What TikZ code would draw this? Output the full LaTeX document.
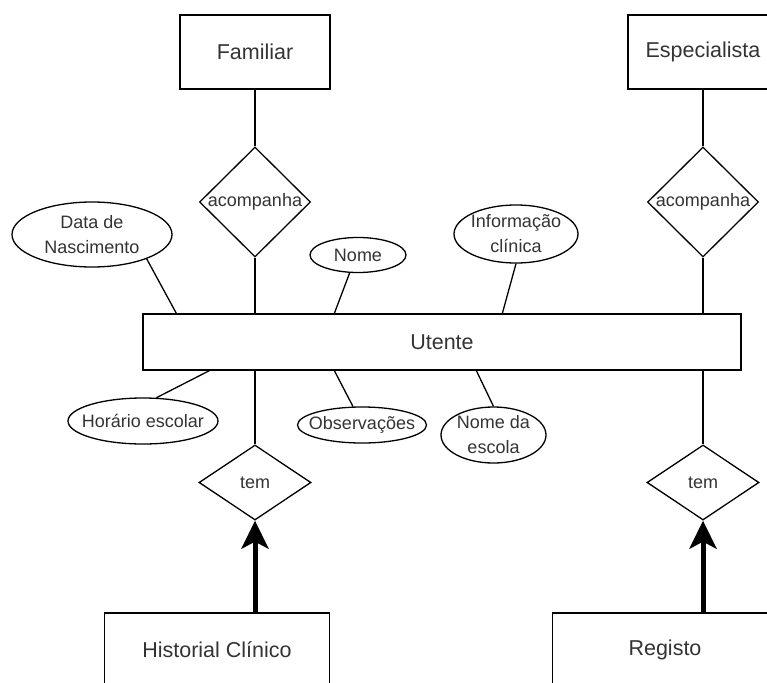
\documentclass[tikz,border=0pt]{standalone}
\usepackage{fontspec}
\setmainfont{Liberation Sans}
\usetikzlibrary{shapes.geometric,arrows.meta,calc}
\begin{document}
\begin{tikzpicture}[x=1pt,y=-1pt,
  line width=1.3pt,
  bigtext/.style={text=black!80, font=\fontsize{21.5}{26}\selectfont},
  smalltext/.style={text=black!80, font=\fontsize{18}{25}\selectfont, align=center},
  entity/.style={draw, rectangle, minimum width=150pt, minimum height=74pt, inner sep=0pt, bigtext},
  relation/.style={draw, diamond, minimum width=111pt, minimum height=110pt, inner sep=0pt},
  attribute/.style={draw, ellipse, inner sep=0pt},
  strongarrow/.style={line width=5pt, -{Stealth[length=28pt, width=27pt, inset=7pt]}}
]
\useasboundingbox (0,0) rectangle (767,682);
\clip (0,0) rectangle (767,682);

% entities
\node[entity] (fam) at (255,52) {Familiar};
\node[entity] (esp) at (703,52) {Especialista};
\node[entity, minimum width=598pt, minimum height=56pt] (ut) at (442,342) {Utente};
\node[entity, minimum width=225pt] (hist) at (217,650) {Historial Clínico};
\node[entity, minimum width=225pt] (reg) at (665,650) {Registo};

% relationships
\node[relation, label={[name=famrellbl, smalltext]center:acompanha}] (famrel) at (255,202) {};
\node[relation, label={[name=esprellbl, smalltext]center:acompanha}] (esprel) at (703,202) {};
\node[relation, minimum width=112pt, minimum height=75pt, label={[name=histrellbl, smalltext]center:tem}] (histrel) at (255,482.5) {};
\node[relation, minimum width=112pt, minimum height=75pt, label={[name=regrellbl, smalltext]center:tem}] (regrel) at (703,482.5) {};

% attributes
\node[attribute, minimum width=160pt, minimum height=65pt, label={[name=dnlbl, smalltext]center:Data de\\Nascimento}] (dn) at (92,234.5) {};
\node[attribute, minimum width=96pt, minimum height=35pt, label={[name=nomelbl, smalltext]center:Nome}] (nome) at (358,255) {};
\node[attribute, minimum width=124pt, minimum height=58pt, label={[name=infolbl, smalltext]center:Informação\\clínica}] (info) at (516,234) {};
\node[attribute, minimum width=150pt, minimum height=46pt, label={[name=horlbl, smalltext]center:Horário escolar}] (hor) at (143,421) {};
\node[attribute, minimum width=129pt, minimum height=36pt, label={[name=obslbl, smalltext]center:Observações}] (obs) at (362,425) {};
\node[attribute, minimum width=105pt, minimum height=56pt, label={[name=esclbl, smalltext]center:Nome da\\escola}] (esc) at (493.5,435) {};

% relationship connectors
\draw (fam) -- (famrel);
\draw (famrel) -- (famrel |- ut.north);
\draw (esp.south -| esprel) -- (esprel);
\draw (esprel) -- (esprel |- ut.north);
\draw (ut.south -| histrel) -- (histrel);
\draw (ut.south -| regrel) -- (regrel);
\draw[strongarrow] (hist.north -| histrel) -- (histrel.south);
\draw[strongarrow] (reg.north -| regrel) -- (regrel.south);

% attribute connectors
\draw (dn.-24) -- ([xshift=34pt]ut.north west);
\draw (nome.-115) -- ([xshift=192pt]ut.north west);
\draw (info.south) -- ([xshift=360pt]ut.north west);
\draw (hor.60) -- ([xshift=67pt]ut.south west);
\draw (obs.116) -- ([xshift=192pt]ut.south west);
\draw (esc.north) -- ([xshift=334pt]ut.south west);
\end{tikzpicture}
\end{document}
